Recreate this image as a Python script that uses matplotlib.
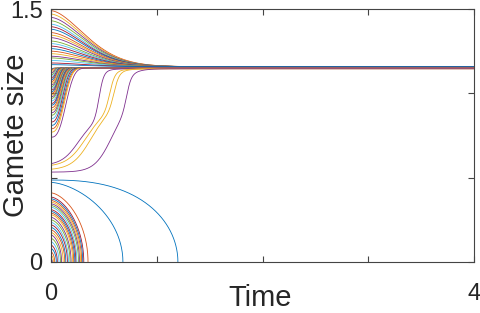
import numpy as np
import matplotlib
matplotlib.use("Agg")
import matplotlib.pyplot as plt

plt.rcParams['font.family'] = ['Liberation Sans', 'DejaVu Sans']

# MATLAB default colour order
colors = ['#0072BD', '#D95319', '#EDB120', '#7E2F8E', '#77AC30', '#4DBEEE', '#A2142F']

# upper group: start above the steady state and relax down
upper_start = [1.49, 1.47, 1.45, 1.43, 1.41, 1.395, 1.38, 1.36, 1.345, 1.33,
               1.31, 1.295, 1.28, 1.265, 1.25, 1.235, 1.22, 1.21, 1.195, 1.18, 1.17]
upper_final = 1.158

# near group: start just below the steady state and rise quickly
near_start = [1.145, 1.14, 1.13, 1.12, 1.11, 1.10, 1.09, 1.08, 1.07, 1.06, 1.05, 1.04,
              1.03, 1.02, 1.01, 1.0, 0.99, 0.98, 0.97, 0.955, 0.94, 0.93, 0.915, 0.90,
              0.885, 0.87, 0.85, 0.83, 0.81, 0.79, 0.77, 0.74]
near_tau = [0.02, 0.025, 0.03, 0.035, 0.04, 0.045, 0.05, 0.055, 0.06, 0.065, 0.07, 0.072,
            0.075, 0.078, 0.08, 0.083, 0.086, 0.09, 0.093, 0.097, 0.10, 0.104, 0.108, 0.112,
            0.116, 0.12, 0.125, 0.13, 0.138, 0.145, 0.15, 0.165]
near_final = 1.150

# slow two-stage risers (start, stage-1 amplitude, centre, width, stage-2 centre, width)
slow_start = [0.583, 0.573, 0.55, 0.533]
slow_amp1 = [0.27, 0.33, 0.37, 0.40]
slow_c1 = [0.26, 0.33, 0.38, 0.57]
slow_w1 = [0.08, 0.09, 0.09, 0.08]
slow_c2 = [0.455, 0.555, 0.595, 0.715]
slow_w2 = [0.022, 0.025, 0.025, 0.022]
slow_colors = ['#7E2F8E', '#EDB120', '#EDB120', '#7E2F8E']
slow_final = 1.146

# lower group: decline to extinction (start, time of extinction, shape exponent)
low_start = [0.486, 0.472, 0.41, 0.385, 0.375, 0.365, 0.355, 0.345, 0.335, 0.325, 0.31,
             0.30, 0.29, 0.28, 0.265, 0.25, 0.235, 0.22, 0.205, 0.19, 0.175, 0.16, 0.14,
             0.12, 0.10, 0.08, 0.06, 0.04, 0.02]
low_end = [1.20, 0.68, 0.35, 0.31, 0.30, 0.29, 0.28, 0.27, 0.26, 0.245, 0.235,
           0.225, 0.215, 0.205, 0.19, 0.18, 0.165, 0.155, 0.14, 0.13, 0.115, 0.10, 0.09,
           0.075, 0.06, 0.05, 0.035, 0.025, 0.012]
low_shape = [2.5, 1.6] + [1.6] * 27
low_colors = ['#0072BD', '#0072BD', '#D95319']

t = np.linspace(0, 4, 3000)


def logistic(t, c, w):
    s = 1 / (1 + np.exp(-(t - c) / w))
    s0 = 1 / (1 + np.exp(c / w))
    return (s - s0) / (1 - s0)


fig = plt.figure(figsize=(4.8, 3.13), dpi=100)
ax = fig.add_axes([51 / 480, 1 - 262 / 313, 423 / 480, 253 / 313])
lw = 0.6
k = 0

for y0 in upper_start:
    y = upper_final + (y0 - upper_final) * np.exp(-(t / 0.45) ** 1.7)
    ax.plot(t, y, color=colors[(k + 1) % 7], lw=lw)
    k += 1

for y0, tau in zip(near_start, near_tau):
    y = near_final - (near_final - y0) * np.exp(-(t / tau) ** 2.8)
    ax.plot(t, y, color=colors[k % 7], lw=lw)
    k += 1

for i in range(len(slow_start)):
    a1 = slow_amp1[i]
    a2 = slow_final - slow_start[i] - a1
    y = slow_start[i] + a1 * logistic(t, slow_c1[i], slow_w1[i]) + a2 * logistic(t, slow_c2[i], slow_w2[i])
    ax.plot(t, y, color=slow_colors[i], lw=lw)

for i, (y0, T, p) in enumerate(zip(low_start, low_end, low_shape)):
    tt = np.append(t[t < T], T)
    y = y0 * np.clip(1 - (tt / T) ** p, 0, None) ** 0.5
    c = low_colors[i] if i < len(low_colors) else colors[(i + 3) % 7]
    ax.plot(tt, y, color=c, lw=lw)

ax.set_xlim(0, 4)
ax.set_ylim(0, 1.5)
ax.set_xticks([0, 1, 2, 3, 4])
ax.set_xticklabels(['0', '', '', '', '4'])
ax.set_yticks([0, 0.5, 1.0, 1.5])
ax.set_yticklabels(['0', '', '', '1.5'])
ax.tick_params(direction='in', top=True, right=True, length=4, width=0.8,
               color='#444444', labelsize=17, labelcolor='#262626')
ax.tick_params(axis='x', pad=15)
ax.tick_params(axis='y', pad=6)
for s in ax.spines.values():
    s.set_color('#444444')
    s.set_linewidth(0.8)
ax.set_xlabel('Time', fontsize=21, color='#262626')
ax.set_ylabel('Gamete size', fontsize=21, color='#262626')
ax.xaxis.set_label_coords(0.495, -0.088)
ax.yaxis.set_label_coords(-0.05, 0.5)

fig.savefig('out.png', dpi=100)
